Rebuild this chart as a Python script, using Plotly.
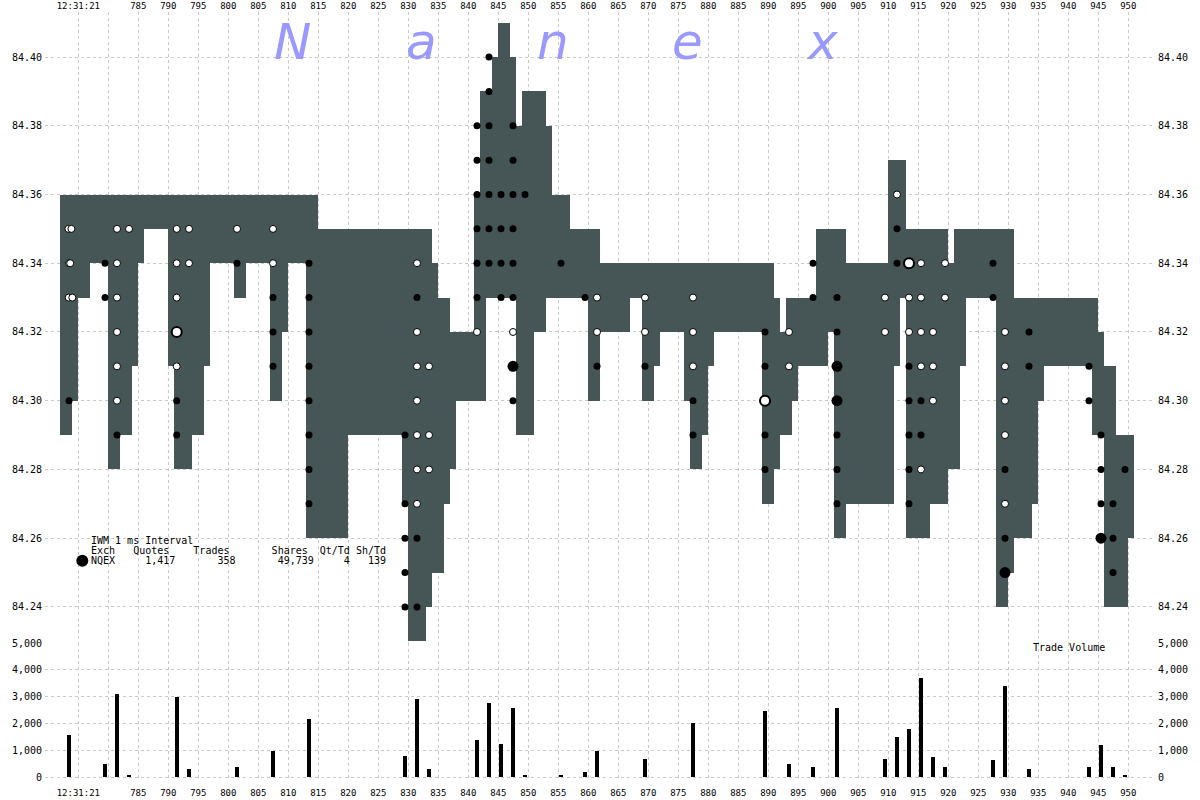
import plotly.graph_objects as go

# ---------------- data ----------------
# quote band segments (ms after 12:31:21.000): start, end, ask (top), bid (bottom)
seg_start = [772, 774, 775, 777, 780, 782, 784, 785, 786, 790, 791, 794, 796, 797, 801, 803, 807, 809, 810, 813,
             815, 820, 829, 830, 833, 834, 835, 836, 837, 838, 841, 842, 843, 844, 845, 847, 848, 849, 851, 853,
             854, 856, 857, 860, 862, 867, 869, 871, 872, 876, 877, 879, 880, 881, 889, 891, 892, 893, 894, 895,
             898, 900, 901, 903, 910, 911, 912, 913, 917, 920, 921, 922, 923, 928, 930, 931, 934, 935, 936, 944,
             945, 946, 948, 950]
seg_end = [774, 775, 777, 780, 782, 784, 785, 786, 790, 791, 794, 796, 797, 801, 803, 807, 809, 810, 813, 815,
           820, 829, 830, 833, 834, 835, 836, 837, 838, 841, 842, 843, 844, 845, 847, 848, 849, 851, 853, 854,
           856, 857, 860, 862, 867, 869, 871, 872, 876, 877, 879, 880, 881, 889, 891, 892, 893, 894, 895, 898,
           900, 901, 903, 910, 911, 912, 913, 917, 920, 921, 922, 923, 928, 930, 931, 934, 935, 936, 944, 945,
           946, 948, 950, 951]
seg_ask = [84.36, 84.36, 84.36, 84.36, 84.36, 84.36, 84.36, 84.36, 84.36, 84.36, 84.36, 84.36, 84.36, 84.36, 84.36, 84.36, 84.36, 84.36, 84.36, 84.36,
           84.35, 84.35, 84.35, 84.35, 84.35, 84.34, 84.33, 84.33, 84.32, 84.32, 84.36, 84.39, 84.39, 84.40, 84.41, 84.40, 84.38, 84.39, 84.39, 84.38,
           84.36, 84.36, 84.35, 84.35, 84.34, 84.34, 84.34, 84.34, 84.34, 84.34, 84.34, 84.34, 84.34, 84.34, 84.34, 84.33, 84.32, 84.33, 84.33, 84.33,
           84.35, 84.35, 84.35, 84.34, 84.37, 84.37, 84.37, 84.35, 84.35, 84.34, 84.35, 84.35, 84.35, 84.35, 84.35, 84.33, 84.33, 84.33, 84.33, 84.33,
           84.32, 84.31, 84.29, 84.29]
seg_bid = [84.29, 84.30, 84.33, 84.34, 84.28, 84.29, 84.31, 84.34, 84.35, 84.31, 84.28, 84.29, 84.31, 84.34, 84.33, 84.34, 84.30, 84.32, 84.34, 84.26,
           84.26, 84.29, 84.27, 84.23, 84.24, 84.25, 84.25, 84.27, 84.28, 84.30, 84.30, 84.30, 84.33, 84.33, 84.33, 84.33, 84.29, 84.29, 84.32, 84.33,
           84.33, 84.33, 84.33, 84.30, 84.32, 84.33, 84.30, 84.31, 84.32, 84.30, 84.28, 84.29, 84.31, 84.32, 84.27, 84.28, 84.29, 84.29, 84.30, 84.31,
           84.31, 84.32, 84.26, 84.27, 84.27, 84.31, 84.33, 84.26, 84.27, 84.28, 84.28, 84.31, 84.33, 84.24, 84.25, 84.26, 84.27, 84.30, 84.31, 84.29,
           84.29, 84.24, 84.24, 84.26]

# trades: time (ms), price, kind (B black, W white, BB big black, WR big white ring)
trade_t = [773.35, 773.85, 773.45, 773.65, 773.4, 774.0, 773.45,
           779.45, 779.45,
           781.45, 781.45, 781.45, 781.45, 781.45, 781.45, 781.45,
           783.45,
           791.4, 791.4, 791.4, 791.4, 791.4, 791.4, 791.4,
           793.45, 793.45,
           801.45, 801.45,
           807.45, 807.45, 807.45, 807.45, 807.45,
           813.45, 813.45, 813.45, 813.45, 813.45, 813.45, 813.45, 813.45,
           829.45, 829.45, 829.45, 829.45, 829.45,
           831.45, 831.45, 831.45, 831.45, 831.45, 831.45, 831.45, 831.45, 831.45, 831.45,
           833.45, 833.45, 833.45,
           841.45, 841.45, 841.45, 841.45, 841.45, 841.45, 841.45,
           843.45, 843.45, 843.45, 843.45, 843.45, 843.45, 843.45,
           845.45, 845.45, 845.45, 845.45,
           847.45, 847.45, 847.45, 847.45, 847.45, 847.45, 847.45, 847.45, 847.45,
           849.45, 855.45, 859.45,
           861.45, 861.45, 861.45,
           869.45, 869.45, 869.45,
           877.45, 877.45, 877.45, 877.45, 877.45,
           889.45, 889.45, 889.45, 889.45, 889.45,
           893.45, 893.45,
           897.45, 897.45,
           901.45, 901.45, 901.45, 901.45, 901.45, 901.45, 901.45,
           909.45, 909.45,
           911.45, 911.45, 911.45,
           913.45, 913.45, 913.45, 913.45, 913.45, 913.45, 913.45, 913.45,
           915.45, 915.45, 915.45, 915.45, 915.45, 915.45, 915.45,
           917.45, 917.45, 917.45,
           919.45, 919.45,
           927.45, 927.45,
           929.45, 929.45, 929.45, 929.45, 929.45, 929.45, 929.45, 929.45,
           933.45, 933.45,
           943.45, 943.45,
           945.45, 945.45, 945.45, 945.45,
           947.45, 947.45, 947.45,
           949.45]
trade_px = [84.35, 84.35, 84.34, 84.34, 84.33, 84.33, 84.30,
            84.34, 84.33,
            84.35, 84.34, 84.33, 84.32, 84.31, 84.30, 84.29,
            84.35,
            84.35, 84.34, 84.33, 84.32, 84.31, 84.30, 84.29,
            84.35, 84.34,
            84.35, 84.34,
            84.35, 84.34, 84.33, 84.32, 84.31,
            84.34, 84.33, 84.32, 84.31, 84.30, 84.29, 84.28, 84.27,
            84.29, 84.27, 84.26, 84.25, 84.24,
            84.34, 84.33, 84.32, 84.31, 84.30, 84.29, 84.28, 84.27, 84.26, 84.24,
            84.31, 84.29, 84.28,
            84.38, 84.37, 84.36, 84.35, 84.34, 84.33, 84.32,
            84.40, 84.39, 84.38, 84.37, 84.36, 84.35, 84.34,
            84.36, 84.35, 84.34, 84.33,
            84.38, 84.37, 84.36, 84.35, 84.34, 84.33, 84.32, 84.31, 84.30,
            84.36, 84.34, 84.33,
            84.33, 84.32, 84.31,
            84.33, 84.32, 84.31,
            84.33, 84.32, 84.31, 84.30, 84.29,
            84.32, 84.31, 84.30, 84.29, 84.28,
            84.32, 84.31,
            84.34, 84.33,
            84.33, 84.32, 84.31, 84.30, 84.29, 84.28, 84.27,
            84.33, 84.32,
            84.36, 84.35, 84.34,
            84.34, 84.33, 84.32, 84.31, 84.30, 84.29, 84.28, 84.27,
            84.34, 84.33, 84.32, 84.31, 84.30, 84.29, 84.28,
            84.32, 84.31, 84.30,
            84.34, 84.33,
            84.34, 84.33,
            84.32, 84.31, 84.30, 84.29, 84.28, 84.27, 84.26, 84.25,
            84.32, 84.31,
            84.31, 84.30,
            84.29, 84.28, 84.27, 84.26,
            84.27, 84.26, 84.25,
            84.28]
trade_kind = ["W", "W", "W", "W", "W", "W", "B",
              "B", "B",
              "W", "W", "W", "W", "W", "W", "B",
              "W",
              "W", "W", "W", "WR", "W", "B", "B",
              "W", "W",
              "W", "B",
              "W", "W", "B", "B", "B",
              "B", "B", "B", "B", "B", "B", "B", "B",
              "B", "B", "B", "B", "B",
              "W", "B", "W", "W", "W", "W", "W", "W", "B", "B",
              "W", "W", "W",
              "B", "B", "B", "B", "B", "B", "W",
              "B", "B", "B", "B", "B", "B", "B",
              "B", "B", "B", "B",
              "B", "B", "B", "B", "B", "B", "W", "BB", "B",
              "B", "B", "B",
              "W", "W", "B",
              "W", "W", "B",
              "W", "W", "W", "B", "B",
              "B", "B", "WR", "B", "B",
              "W", "W",
              "B", "B",
              "B", "B", "BB", "BB", "B", "B", "B",
              "W", "W",
              "W", "B", "B",
              "WR", "W", "W", "B", "B", "B", "B", "B",
              "W", "W", "W", "W", "B", "B", "W",
              "W", "W", "W",
              "W", "W",
              "B", "B",
              "W", "W", "W", "W", "B", "W", "B", "BB",
              "B", "B",
              "B", "B",
              "B", "B", "B", "BB",
              "B", "B", "B",
              "B"]

# trade volume per ms
vol_t = [773.4, 779.4, 781.4, 783.4, 791.4, 793.4, 801.4, 807.4, 813.4, 829.4, 831.4, 833.4, 841.4, 843.4,
         845.4, 847.4, 849.4, 855.4, 859.4, 861.4, 869.4, 877.4, 889.4, 893.4, 897.4, 901.4, 909.4, 911.4,
         913.4, 915.4, 917.4, 919.4, 927.4, 929.4, 933.4, 943.4, 945.4, 947.4, 949.4]
vol_v = [1570, 480, 3100, 80, 2990, 290, 380, 960, 2160, 780, 2910, 290, 1380, 2760,
         1230, 2580, 70, 70, 180, 960, 660, 2010, 2460, 480, 370, 2570, 670, 1490,
         1790, 3700, 740, 360, 630, 3400, 290, 370, 1190, 370, 80]

x_tickvals = list(range(775, 951, 5))
x_ticktext = ["12:31:21", ""] + [str(v) for v in range(785, 951, 5)]
price_ticks = [84.24, 84.26, 84.28, 84.30, 84.32, 84.34, 84.36, 84.38, 84.40]
vol_ticks = [0, 1000, 2000, 3000, 4000, 5000]

# ---------------- figure ----------------
W, H = 1200, 800
ML, MR, MT, MB = 45, 48, 12, 20
PW, PH = W - ML - MR, H - MT - MB
SPLIT = (H - MB - 643) / PH  # volume panel fraction


def px_x(X):
    return (X - ML) / PW


def px_y(Y):
    return (H - MB - Y) / PH


GRAY = "rgb(70,86,86)"
GRID = "rgb(200,200,200)"
MONO = "DejaVu Sans Mono"

fig = go.Figure()

# quote band
fig.add_trace(go.Bar(
    x=[(s + e) / 2 for s, e in zip(seg_start, seg_end)],
    width=[e - s for s, e in zip(seg_start, seg_end)],
    base=seg_bid,
    y=[a - b for a, b in zip(seg_ask, seg_bid)],
    marker=dict(color=GRAY, line=dict(width=0)),
    xaxis="x2", yaxis="y", hoverinfo="skip", showlegend=False,
))

styles = {
    "W": dict(size=7, color="white", line=dict(color="black", width=1)),
    "B": dict(size=7, color="black", line=dict(color="black", width=0)),
    "BB": dict(size=11, color="black", line=dict(color="black", width=0)),
    "WR": dict(size=10, color="white", line=dict(color="black", width=2)),
}
for kind, st in styles.items():
    xs = [t for t, k in zip(trade_t, trade_kind) if k == kind]
    ys = [p for p, k in zip(trade_px, trade_kind) if k == kind]
    fig.add_trace(go.Scatter(x=xs, y=ys, mode="markers", marker=st,
                             xaxis="x2", yaxis="y", hoverinfo="skip", showlegend=False))

# volume
fig.add_trace(go.Bar(x=vol_t, y=vol_v, width=0.7, marker=dict(color="black", line=dict(width=0)),
                     xaxis="x", yaxis="y2", hoverinfo="skip", showlegend=False))

# dummy traces for right-hand axes
fig.add_trace(go.Scatter(x=[None], y=[None], xaxis="x2", yaxis="y3", showlegend=False))
fig.add_trace(go.Scatter(x=[None], y=[None], xaxis="x", yaxis="y4", showlegend=False))

xr = [769.45, 953.95]
pr = [84.2295, 84.4131]
vr = [-112, 5000]

common_x = dict(range=xr, tickvals=x_tickvals, ticktext=x_ticktext, showgrid=True, gridcolor=GRID,
                griddash="3px,3px", gridwidth=1, zeroline=False, showline=False, ticks="",
                tickfont=dict(family=MONO, size=9, color="black"), fixedrange=True, automargin=False)
common_y = dict(zeroline=False, showline=False, ticks="", automargin=False, fixedrange=True,
                tickfont=dict(family=MONO, size=10, color="black"))

fig.update_layout(
    width=W, height=H,
    margin=dict(l=ML, r=MR, t=MT, b=MB, pad=0, autoexpand=False),
    paper_bgcolor="white", plot_bgcolor="white",
    barmode="overlay", bargap=0,
    showlegend=False, hovermode=False,
    xaxis=dict(domain=[0, 1], anchor="y2", side="bottom", ticklabelstandoff=6, **common_x),
    xaxis2=dict(domain=[0, 1], anchor="y", side="top", matches="x", **common_x),
    yaxis=dict(domain=[SPLIT, 1], anchor="x2", range=pr, tickvals=price_ticks, tickformat=".2f",
               showgrid=True, gridcolor=GRID, griddash="3px,3px", ticklabelstandoff=2, **common_y),
    yaxis3=dict(overlaying="y", side="right", anchor="x2", range=pr, tickvals=price_ticks, tickformat=".2f",
                showgrid=False, ticklabelstandoff=5, **common_y),
    yaxis2=dict(domain=[0, SPLIT], anchor="x", range=vr, tickvals=vol_ticks, tickformat=",d",
                showgrid=True, gridcolor=GRID, griddash="3px,3px", ticklabelstandoff=2, **common_y),
    yaxis4=dict(overlaying="y2", side="right", anchor="x", range=vr, tickvals=vol_ticks, tickformat=",d",
                showgrid=False, ticklabelstandoff=5, **common_y),
)

# Nanex watermark
for letter, cx in zip(["N", "a", "n", "e", "x"], [292, 421, 553, 687, 822]):
    fig.add_annotation(x=px_x(cx), y=px_y(42), xref="paper", yref="paper", text=letter, showarrow=False,
                       xanchor="center", yanchor="middle",
                       font=dict(family="DejaVu Sans", size=50, color="rgb(153,153,255)", style="italic"))

# info box
NB = "\u00a0"
rows = [
    "IWM 1 ms Interval",
    "Exch   Quotes    Trades       Shares  Qt/Td Sh/Td",
    "NQEX     1,417       358       49,739     4   139",
]
for txt, yy in zip(rows, [540.7, 550.7, 560.7]):
    fig.add_annotation(x=px_x(90), y=px_y(yy), xref="paper", yref="paper", text=txt.replace(" ", NB),
                       showarrow=False, xanchor="left", yanchor="middle", borderpad=0,
                       font=dict(family=MONO, size=10, color="black"))
fig.add_shape(type="circle", xref="paper", yref="paper",
              x0=px_x(76.3), x1=px_x(88.3), y0=px_y(566.7), y1=px_y(554.7),
              fillcolor="black", line=dict(width=0))

fig.add_annotation(x=px_x(1032), y=px_y(647.7), xref="paper", yref="paper", text="Trade" + NB + "Volume",
                   showarrow=False, xanchor="left", yanchor="middle", borderpad=0,
                   font=dict(family=MONO, size=10, color="black"))

fig.write_html("out.html", config={"displayModeBar": False, "staticPlot": True},
               post_script="document.body.style.margin='0';document.body.style.padding='0';")
